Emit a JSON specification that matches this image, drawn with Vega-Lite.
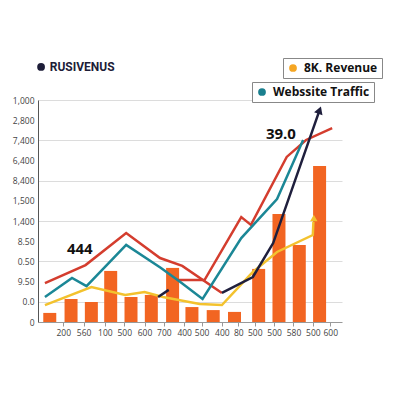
{
  "$schema": "https://vega.github.io/schema/vega-lite/v6.json",
  "width": 304,
  "height": 222,
  "autosize": {"type": "none"},
  "padding": {"left": 38, "top": 100, "right": 58, "bottom": 78},
  "background": "white",
  "config": {"view": {"stroke": null}, "font": "Open Sans"},
  "datasets": {
    "bars": [
      {"x": 0.35, "y": 0.45}, {"x": 1.45, "y": 1.14}, {"x": 2.5, "y": 0.99}, {"x": 3.5, "y": 2.53},
      {"x": 4.55, "y": 1.24}, {"x": 5.6, "y": 1.34}, {"x": 6.7, "y": 2.68}, {"x": 7.7, "y": 0.74},
      {"x": 8.8, "y": 0.59}, {"x": 9.9, "y": 0.5}, {"x": 11.15, "y": 2.63}, {"x": 12.2, "y": 5.35},
      {"x": 13.25, "y": 3.82}, {"x": 14.3, "y": 7.73}
    ],
    "lines": [
      {"series": "red1", "x": 0.1, "y": 1.93}, {"series": "red1", "x": 2.2, "y": 2.82},
      {"series": "red1", "x": 4.3, "y": 4.41}, {"series": "red1", "x": 6.05, "y": 3.17},
      {"series": "red1", "x": 7.2, "y": 2.78}, {"series": "red1", "x": 9.25, "y": 1.44},
      {"series": "red2", "x": 6.95, "y": 2.08}, {"series": "red2", "x": 8.35, "y": 2.08},
      {"series": "red2", "x": 10.25, "y": 5.2}, {"series": "red2", "x": 10.75, "y": 4.81},
      {"series": "red2", "x": 12.6, "y": 8.18}, {"series": "red2", "x": 13.6, "y": 9.02},
      {"series": "red2", "x": 14.95, "y": 9.61},
      {"series": "teal", "x": 0.1, "y": 1.24}, {"series": "teal", "x": 1.5, "y": 2.18},
      {"series": "teal", "x": 2.25, "y": 1.78}, {"series": "teal", "x": 4.3, "y": 3.82},
      {"series": "teal", "x": 6.1, "y": 2.68}, {"series": "teal", "x": 7.1, "y": 1.98},
      {"series": "teal", "x": 8.25, "y": 1.14}, {"series": "teal", "x": 10.25, "y": 4.16},
      {"series": "teal", "x": 12.1, "y": 6.09}, {"series": "teal", "x": 13.45, "y": 9.02},
      {"series": "yellow", "x": 0.1, "y": 0.84}, {"series": "yellow", "x": 2.5, "y": 1.73},
      {"series": "yellow", "x": 4.25, "y": 1.34}, {"series": "yellow", "x": 5.25, "y": 1.49},
      {"series": "yellow", "x": 6.2, "y": 1.24}, {"series": "yellow", "x": 8.1, "y": 0.89},
      {"series": "yellow", "x": 9.25, "y": 0.84}, {"series": "yellow", "x": 10.85, "y": 2.48},
      {"series": "yellow", "x": 12.1, "y": 3.47}, {"series": "yellow", "x": 13.95, "y": 4.31},
      {"series": "yellow", "x": 13.98, "y": 4.96},
      {"series": "dark1", "x": 5.95, "y": 1.24}, {"series": "dark1", "x": 6.5, "y": 1.59},
      {"series": "dark2", "x": 9.25, "y": 1.44}, {"series": "dark2", "x": 10.85, "y": 2.23},
      {"series": "dark2", "x": 11.9, "y": 3.91}, {"series": "dark2", "x": 14.25, "y": 10.36}
    ],
    "arrowYellow": [{"x": 14.0, "y": 5.15}],
    "arrowDark": [{"x": 14.3, "y": 10.5}],
    "notes": [{"label": "444", "x": 1.9, "y": 3.62}, {"label": "39.0", "x": 12.3, "y": 9.32}],
    "titleDot": [{"x": -0.1, "y": 12.64}],
    "titleText": [{"label": "RUSIVENUS", "x": 0.35, "y": 12.64}],
    "legRevenue": [{"k": "8K. Revenue", "x": 1, "y": 1}],
    "legTraffic": [{"k": "Webssite Traffic", "x": 1, "y": 1}]
  },
  "encoding": {
    "x": {
      "field": "x", "type": "quantitative",
      "scale": {"domain": [0, 15.2], "nice": false, "zero": false},
      "axis": {
        "title": null, "grid": false,
        "values": [1.05, 2.1, 3.2, 4.2, 5.25, 6.25, 7.3, 8.2, 9.25, 10.1, 10.95, 11.95, 12.95, 13.95, 14.85],
        "labelExpr": "['200','560','100','500','600','700','400','500','400','80','500','500','580','500','600'][indexof([1.05, 2.1, 3.2, 4.2, 5.25, 6.25, 7.3, 8.2, 9.25, 10.1, 10.95, 11.95, 12.95, 13.95, 14.85], datum.value)]",
        "domainColor": "#999", "tickColor": "#999", "tickSize": 4,
        "labelFontSize": 8.5, "labelColor": "#444", "labelPadding": 2, "labelFlush": false
      }
    },
    "y": {
      "field": "y", "type": "quantitative",
      "scale": {"domain": [0, 11], "nice": false, "zero": false},
      "axis": {
        "title": null, "ticks": false,
        "values": [0, 1, 2, 3, 4, 5, 6, 7, 8, 9, 10, 11],
        "labelExpr": "['0','0.0','9.50','0.50','8.50','1,400','1,500','8,400','6,400','7,400','2,800','1,000'][datum.value]",
        "domainColor": "#555", "labelFontSize": 8.5, "labelColor": "#444", "labelPadding": 4,
        "labelFlush": false,
        "grid": true, "gridColor": "#dcdcdc",
        "gridOpacity": {"condition": {"test": "datum.value % 2 == 1", "value": 1}, "value": 0}
      }
    }
  },
  "layer": [
    {
      "data": {"name": "bars"},
      "mark": {"type": "bar", "orient": "vertical", "width": 13, "color": "#f26522"}
    },
    {
      "data": {"name": "lines"},
      "mark": {"type": "line", "strokeWidth": 2.5, "strokeJoin": "miter"},
      "encoding": {
        "stroke": {
          "field": "series", "type": "nominal", "legend": null,
          "scale": {
            "domain": ["red1", "red2", "teal", "yellow", "dark1", "dark2"],
            "range": ["#d43d2e", "#d43d2e", "#1b8796", "#f3c22e", "#1f1f3d", "#1f1f3d"]
          }
        }
      }
    },
    {
      "data": {"name": "arrowYellow"},
      "mark": {"type": "point", "shape": "triangle-up", "filled": true, "size": 55, "color": "#f3c22e", "opacity": 1}
    },
    {
      "data": {"name": "arrowDark"},
      "mark": {"type": "point", "shape": "triangle-up", "filled": true, "size": 80, "angle": 20, "color": "#1f1f3d", "opacity": 1}
    },
    {
      "data": {"name": "notes"},
      "mark": {"type": "text", "fontSize": 15, "fontWeight": "bold", "color": "#111", "align": "center", "baseline": "middle"},
      "encoding": {"text": {"field": "label"}}
    },
    {
      "data": {"name": "titleDot"},
      "mark": {"type": "point", "shape": "circle", "filled": true, "size": 60, "color": "#1d1d38", "opacity": 1}
    },
    {
      "data": {"name": "titleText"},
      "mark": {"type": "text", "font": "Roboto", "fontSize": 12, "fontWeight": "bold", "color": "#1d1d38", "align": "left", "baseline": "middle"},
      "encoding": {"text": {"field": "label"}}
    },
    {
      "data": {"name": "legRevenue"},
      "mark": {"type": "point", "filled": true, "opacity": 0},
      "encoding": {
        "color": {
          "field": "k", "type": "nominal",
          "scale": {"domain": ["8K. Revenue"], "range": ["#f5a623"]},
          "legend": {
            "title": null, "orient": "none", "legendX": 245, "legendY": -42,
            "strokeColor": "#888", "fillColor": "white", "padding": 4,
            "symbolType": "circle", "symbolSize": 60, "symbolOpacity": 1, "symbolStrokeWidth": 0,
            "labelFontSize": 12, "labelFontWeight": "bold", "labelColor": "#111", "labelOffset": 5
          }
        }
      }
    },
    {
      "data": {"name": "legTraffic"},
      "mark": {"type": "point", "filled": true, "opacity": 0},
      "encoding": {
        "fill": {
          "field": "k", "type": "nominal",
          "scale": {"domain": ["Webssite Traffic"], "range": ["#1a7f8e"]},
          "legend": {
            "title": null, "orient": "none", "legendX": 214, "legendY": -18,
            "strokeColor": "#888", "fillColor": "white", "padding": 4,
            "symbolType": "circle", "symbolSize": 60, "symbolOpacity": 1, "symbolStrokeWidth": 0,
            "labelFontSize": 12, "labelFontWeight": "bold", "labelColor": "#111", "labelOffset": 5
          }
        }
      }
    }
  ]
}
